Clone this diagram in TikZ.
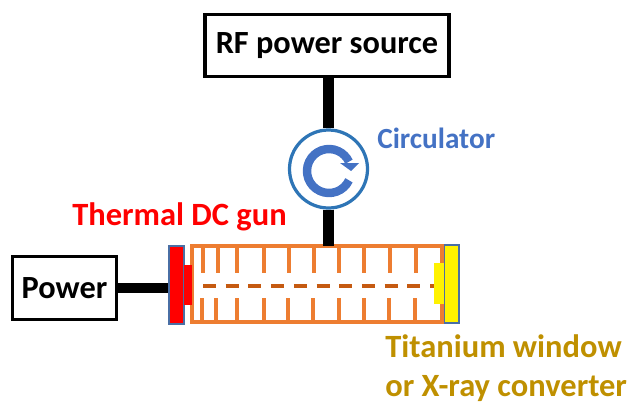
\documentclass[tikz,border=0pt]{standalone}
\usepackage{fontspec}
\setmainfont{Carlito}
\definecolor{tubeorange}{HTML}{ED7D31}
\definecolor{dashorange}{HTML}{C55A11}
\definecolor{circblue}{HTML}{4472C4}
\definecolor{circring}{HTML}{2E75B6}
\definecolor{edgeblue}{HTML}{4A6FA5}
\definecolor{labelgold}{HTML}{BF9000}
\tikzset{
	blackbox/.style={draw,line width=2.2pt,inner sep=0pt,font=\bfseries\fontsize{23}{23}\selectfont},
	feedline/.style={line width=7.5pt},
	finline/.style={tubeorange,line width=3pt},
	endplate/.style={draw=edgeblue,line width=0.9pt,inner sep=0pt},
	labeltext/.style={font=\bfseries\fontsize{23.1}{27.7}\selectfont,inner sep=0pt}
}
\begin{document}
\begin{tikzpicture}[x=0.025cm,y=-0.025cm]
	\useasboundingbox (0,0) rectangle (629,402);
	\node [blackbox,minimum width=6.1cm,minimum height=1.53cm] (rfsource) at (327,45.5) {RF power source};
	\node [blackbox,minimum width=2.6cm,minimum height=1.58cm] (power) at (64.5,288) {Power};
	\node [circle,draw=circring,line width=2.3pt,minimum size=1.95cm,inner sep=0pt] (circulator) at (328.5,169) {};
	\node [labeltext,text=circblue,anchor=west,font=\bfseries\fontsize{20.8}{25}\selectfont] (circlabel) at (377,138) {Circulator};
	\node [labeltext,text=red,anchor=west] (gunlabel) at (72,217) {Thermal DC gun};
	\node [labeltext,text=labelgold,anchor=north west,align=left] (windowlabel) at (385,334) {Titanium window\\or X-ray converter};
	\node [endplate,fill=red,minimum width=0.375cm,minimum height=1.95cm] (gun) at (176.5,285) {};
	\node [endplate,fill=yellow,minimum width=0.375cm,minimum height=1.95cm] (window) at (451.5,284) {};
	\draw [finline] (192,246) rectangle (442,322);
	\foreach \x in {203,218,237,264,289,314,339,364,390,416}
	\draw [finline] (\x,246) -- (\x,273);
	\foreach \x in {202,216,237,264,288,313,339,364,389,415}
	\draw [finline] (\x,322) -- (\x,298);
	\draw [dashorange,line width=2.5pt,dash pattern=on 0.325cm off 0.2425cm] (203,286) -- (435,286);
	\fill [red] (184,265) rectangle (192,305);
	\fill [yellow] (434,263) rectangle (444,304);
	\coordinate (tubetop) at (328.5,246);
	\draw [feedline] (rfsource.south -| circulator) -- (circulator.north);
	\draw [feedline] (circulator.south) -- (tubetop);
	\draw [feedline] (power.east) -- (power.east -| gun.west);
	\draw [circblue,line width=6pt] (329,171) ++(25:22) arc (25:335:22);
	\fill [circblue] (340,163) -- (359,163) -- (351,171) -- cycle;
\end{tikzpicture}
\end{document}
